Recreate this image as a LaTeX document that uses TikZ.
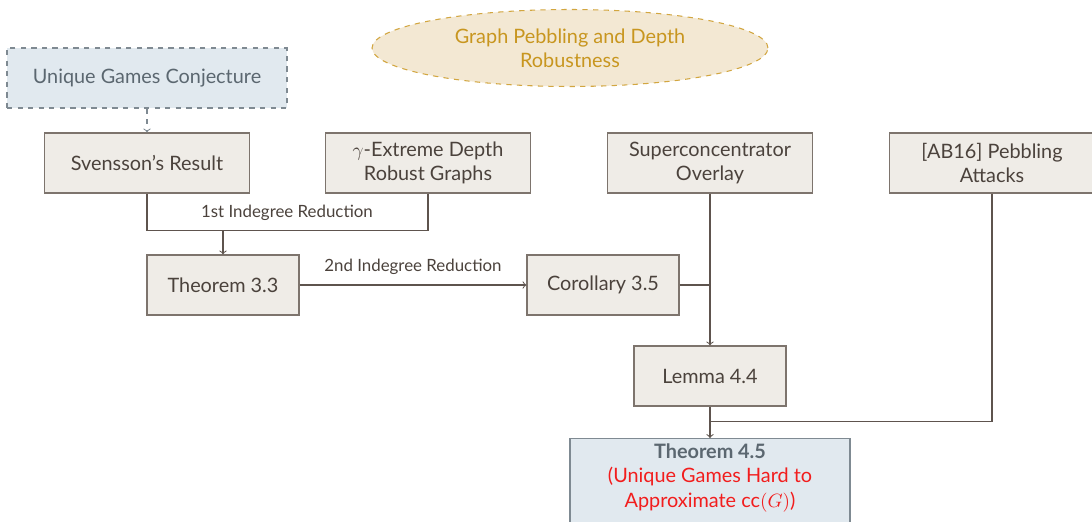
\documentclass[tikz,border=0pt]{standalone}
\usepackage{fontspec}
\setmainfont{Lato}
\usetikzlibrary{shapes.geometric}

\definecolor{boxfill}{HTML}{EFECE7}
\definecolor{boxline}{HTML}{7D746D}
\definecolor{boxtext}{HTML}{4B423C}
\definecolor{wire}{HTML}{5E544E}
\definecolor{ugcfill}{HTML}{E1E9EF}
\definecolor{ugcline}{HTML}{7F8A92}
\definecolor{ugctext}{HTML}{5B6770}
\definecolor{topicfill}{HTML}{F3E8D3}
\definecolor{topicline}{HTML}{D2A640}
\definecolor{topictext}{HTML}{C8961F}
\definecolor{hardred}{HTML}{F21D1D}

\begin{document}
\begin{tikzpicture}[x=0.02cm,y=-0.02cm]
    \tikzstyle{result}=[
        draw=boxline,
        fill=boxfill,
        text=boxtext,
        line width=0.7pt,
        align=center,
        font=\fontsize{11.3}{13.7}\selectfont,
        minimum height=1.2cm,
        inner sep=2pt,
        wide/.style={minimum width=4.1cm},
        narrow/.style={minimum width=3.04cm}]
    \tikzstyle{conj}=[result, draw=ugcline, fill=ugcfill, text=ugctext, dashed, minimum width=5.6cm]
    \tikzstyle{topic}=[ellipse, draw=topicline, fill=topicfill, text=topictext, dashed,
        line width=0.6pt, inner sep=0pt, minimum width=7.92cm, minimum height=1.54cm,
        align=center, font=\fontsize{11.3}{13.7}\selectfont]
    \tikzstyle{wirelabel}=[text=boxtext, font=\fontsize{9.6}{11}\selectfont]
    \tikzstyle{flow}=[draw=wire, line width=0.6pt]

    \useasboundingbox (0,0) rectangle (1092,521);

    \node[topic] (pebbling) at (570,48) {Graph Pebbling and Depth\\Robustness};
    \node[conj] (ugc) at (147,78) {Unique Games Conjecture};
    \node[result,wide] (svensson) at (147,163) {Svensson's Result};
    \node[result,wide] (extreme) at (428,163) {$\gamma$-Extreme Depth\\Robust Graphs};
    \node[result,wide] (superconc) at (710,163) {Superconcentrator\\Overlay};
    \node[result,wide] (attacks) at (992,163) {[AB16] Pebbling\\Attacks};
    \node[result,narrow] (thm33) at (223,285) {Theorem 3.3};
    \node[result,narrow] (cor35) at (603,285) {Corollary 3.5};
    \node[result,narrow] (lem44) at (710,376) {Lemma 4.4};
    \node[result, draw=ugcline, fill=ugcfill, text=ugctext, minimum width=5.6cm, minimum height=1.84cm,
        anchor=north, font=\fontsize{11.3}{13.9}\selectfont] (thm45) at (710,438)
        {\textbf{Theorem 4.5}\\\textcolor{hardred}{(Unique Games Hard to}\\\textcolor{hardred}{Approximate cc$(G)$)}\\[-3.6pt]};

    \path (thm33.north) ++(0,-24) coordinate (join1);
    \path (lem44.south) ++(0,15) coordinate (join2);

    \node[wirelabel] (lbl1) at (287,213) {1st Indegree Reduction};
    \node[wirelabel] (lbl2) at (413,267) {2nd Indegree Reduction};

    \draw[flow,draw=ugcline,dashed,->] (ugc) -- (svensson);
    \draw[flow] (svensson.south) |- (join1) -| (extreme.south);
    \draw[flow,->] (join1) -- (thm33.north);
    \draw[flow,->] (thm33) -- (cor35);
    \draw[flow] (cor35.east) -- (cor35.east -| superconc.south);
    \draw[flow,->] (superconc.south) -- (lem44.north);
    \draw[flow,->] (lem44.south) -- (thm45.north);
    \draw[flow] (attacks.south) |- (join2);
\end{tikzpicture}
\end{document}
